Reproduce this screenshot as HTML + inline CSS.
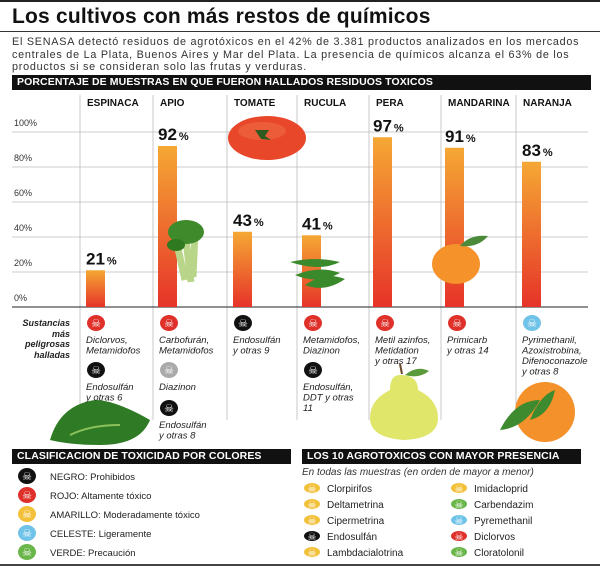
<!DOCTYPE html>
<html><head><meta charset="utf-8"><style>
body{margin:0;background:#fff;font-family:"Liberation Sans",sans-serif;}
#root{position:relative;width:600px;height:582px;overflow:hidden;background:#fff;}
.abs{position:absolute;}
.hdr{position:absolute;background:#111;color:#fff;font-weight:bold;font-size:10.5px;line-height:15px;padding-left:5px;box-sizing:border-box;letter-spacing:0.1px;}
</style></head><body>
<div id="root">
<div class="abs" style="left:0;top:0;width:600px;height:2px;background:#222"></div>
<div class="abs" style="left:12px;top:5px;font-size:21px;font-weight:bold;color:#111;letter-spacing:0.2px">Los cultivos con más restos de químicos</div>
<div class="abs" style="left:0;top:31px;width:600px;height:1px;background:#333"></div>
<div class="abs" style="left:12px;top:36px;width:600px;font-size:10.8px;letter-spacing:0.75px;line-height:12.5px;color:#333;white-space:nowrap">El SENASA detectó residuos de agrotóxicos en el 42% de 3.381 productos analizados en los mercados<br>centrales de La Plata, Buenos Aires y Mar del Plata. La presencia de químicos alcanza el 63% de los<br>productos si se consideran solo las frutas y verduras.</div>
<div class="hdr" style="left:12px;top:75px;width:579px">PORCENTAJE DE MUESTRAS EN QUE FUERON HALLADOS RESIDUOS TOXICOS</div>
<svg id="chart" class="abs" style="left:0;top:0" width="600" height="582"></svg>

<div class="abs" style="left:12px;top:318px;width:58px;text-align:right;font-size:9px;font-weight:bold;font-style:italic;line-height:10.5px;color:#222">Sustancias más peligrosas halladas</div>

<div class="hdr" style="left:12px;top:449px;width:279px">CLASIFICACION DE TOXICIDAD POR COLORES</div>
<div class="hdr" style="left:302px;top:449px;width:279px">LOS 10 AGROTOXICOS CON MAYOR PRESENCIA</div>
<div class="abs" style="left:302px;top:467px;font-size:10px;font-style:italic;color:#333">En todas las muestras (en orden de mayor a menor)</div>
<div class="abs" style="left:0;top:564px;width:600px;height:2px;background:#444"></div>
</div>
<script>
const categories=["ESPINACA","APIO","TOMATE","RUCULA","PERA","MANDARINA","NARANJA"];
const values=[21,92,43,41,97,91,83];
const yTicks=[0,20,40,60,80,100];
const NS="http://www.w3.org/2000/svg";
const svg=document.getElementById('chart');
const colX=[80,153,227,297,369,441,516];
const barOff=[6,5,6,5,4,4,6];
const y=v=>307-v*1.75;
function mk(t,a){const e=document.createElementNS(NS,t);for(const k in a)e.setAttribute(k,a[k]);svg.appendChild(e);return e;}
const defs=mk('defs',{});
const lg=document.createElementNS(NS,'linearGradient');lg.setAttribute('id','bg');lg.setAttribute('x1','0');lg.setAttribute('y1','0');lg.setAttribute('x2','0');lg.setAttribute('y2','1');
lg.innerHTML='<stop offset="0" stop-color="#f5a834"/><stop offset="1" stop-color="#e63329"/>';defs.appendChild(lg);
yTicks.forEach(t=>{
 if(t>0){const l=mk('line',{x1:12,x2:588,y1:y(t),y2:y(t),stroke:'#bbb','stroke-width':0.8});}
 const tx=mk('text',{x:14,y:y(t)-6,'font-size':9,fill:'#333','font-family':'Liberation Sans'});tx.textContent=t+'%';
 
});
colX.forEach((x,i)=>{const l=mk('line',{x1:x,x2:x,y1:95,y2:420,stroke:'#bbb','stroke-width':0.8});});
const bl=mk('line',{x1:12,x2:588,y1:307,y2:307,stroke:'#222','stroke-width':1});
categories.forEach((c,i)=>{
 const x=colX[i]+barOff[i];
 const cl=mk('text',{x:colX[i]+7,y:106,'font-size':10,'font-weight':'bold',fill:'#111','font-family':'Liberation Sans'});cl.textContent=c;
 
 const r=mk('rect',{x:x,y:y(values[i]),width:19,height:307-y(values[i]),fill:'url(#bg)'});
 
 const vt=mk('text',{x:x,y:y(values[i])-6,'font-size':17,'font-weight':'bold',fill:'#111','font-family':'Liberation Sans'});
 vt.innerHTML=values[i]+'<tspan font-size="11" dx="2">%</tspan>';
 
});
function g(name,html){const e=mk('g',{});e.innerHTML=html;}
g('tomato-image','<ellipse cx="267" cy="138" rx="39" ry="22" fill="#e8472a"/><ellipse cx="262" cy="131" rx="24" ry="9" fill="#f06a45" opacity=".6"/><path d="M255 130 l14 0 l-4 6 l6 4 l-10-1 z" fill="#2f5a1f"/>');
g('celery-image','<path d="M175 235 l10 45 M185 232 l6 50 M195 232 l-2 45" stroke="#b9d58a" stroke-width="7"/><ellipse cx="186" cy="232" rx="18" ry="12" fill="#3f8a2a"/><ellipse cx="176" cy="245" rx="9" ry="6" fill="#2f7a20"/>');
g('arugula-image','<path d="M290 262 q25-6 50 0 q-20 10-50 0z M295 275 q25-10 45-2 q-22 12-45 2z M305 285 q20-14 40-6 q-20 14-40 6z" fill="#3a8a2c"/>');
g('mandarin-image','<ellipse cx="456" cy="264" rx="24" ry="20" fill="#f5922a"/><path d="M460 246 q10-12 28-10 q-10 12-28 10z" fill="#4b8a3a"/>');
g('pear-image','<path d="M400 375 q-10 0-10 15 q-20 10-20 28 q0 20 35 22 q33-2 33-22 q0-18-20-28 q0-15-18-15z" fill="#dfe66a"/><path d="M402 374 l-2-10" stroke="#6b4a2a" stroke-width="2"/><path d="M405 375 q12-10 24-4 q-10 8-24 4z" fill="#5a9a3a"/>');
g('orange-image','<circle cx="545" cy="412" r="30" fill="#f4912a"/><path d="M500 430 q15-30 40-30 q-15 28-40 30z M530 420 q10-25 25-30 q-5 25-25 30z" fill="#3e8a2e"/>');
g('spinach-image','<path d="M50 440 q10-35 45-40 q20 0 55 20 q-10 25-50 25 q-30 0-50-5z" fill="#2f7a25"/><path d="M70 435 q20-10 50-10" stroke="#8bc05a" stroke-width="2" fill="none"/>');
function skull(cx,cy,col,name){const e=mk('g',{});e.innerHTML='<ellipse cx="'+cx+'" cy="'+cy+'" rx="9" ry="8" fill="'+col+'"/><text x="'+cx+'" y="'+(cy+4)+'" font-size="11" fill="#fff" text-anchor="middle">☠</text>';
 }
const R='#e0302a',B='#111',G='#aaa',C='#6fc3e8',Y='#f3c03a',V='#6bb64a';
const subs=[
 [[R,323,'Diclorvos,','Metamidofos'],[B,370,'Endosulfán','y otras 6']],
 [[R,323,'Carbofurán,','Metamidofos'],[G,370,'Diazinon',''],[B,408,'Endosulfán','y otras 8']],
 [[B,323,'Endosulfán','y otras 9']],
 [[R,323,'Metamidofos,','Diazinon'],[B,370,'Endosulfán,','DDT y otras','11']],
 [[R,323,'Metil azinfos,','Metidation','y otras 17']],
 [[R,323,'Primicarb','y otras 14']],
 [[C,323,'Pyrimethanil,','Azoxistrobina,','Difenoconazole','y otras 8']]
];
subs.forEach((col,i)=>{col.forEach(s=>{
 const x=colX[i]+6;skull(x+10,s[1],s[0],'skull-icon');
 for(let k=2;k<s.length;k++){if(!s[k])continue;const t=mk('text',{x:x,y:s[1]+20+(k-2)*10.5,'font-size':9.5,'font-style':'italic',fill:'#222','font-family':'Liberation Sans'});t.textContent=s[k];
 }
});});
const legend=[[B,'NEGRO: Prohibidos'],[R,'ROJO: Altamente tóxico'],[Y,'AMARILLO: Moderadamente tóxico'],[C,'CELESTE: Ligeramente'],[V,'VERDE: Precaución']];
legend.forEach((l,i)=>{const cy=476+i*19;const e=mk('g',{});e.innerHTML='<ellipse cx="27" cy="'+cy+'" rx="9" ry="8" fill="'+l[0]+'"/><text x="27" y="'+(cy+4)+'" font-size="11" fill="#fff" text-anchor="middle">☠</text><text x="50" y="'+(cy+4)+'" font-size="9.5" fill="#222" font-family="Liberation Sans">'+l[1]+'</text>';
 });
const top10=[[Y,'Clorpirifos'],[Y,'Deltametrina'],[Y,'Cipermetrina'],[B,'Endosulfán'],[Y,'Lambdacialotrina'],[Y,'Imidacloprid'],[V,'Carbendazim'],[C,'Pyremethanil'],[R,'Diclorvos'],[V,'Cloratolonil']];
top10.forEach((t,i)=>{const x=i<5?303:450;const cy=488+(i%5)*16;const e=mk('g',{});e.innerHTML='<ellipse cx="'+(x+9)+'" cy="'+cy+'" rx="8" ry="5" fill="'+t[0]+'"/><text x="'+(x+9)+'" y="'+(cy+4)+'" font-size="10" fill="#fff" text-anchor="middle">☠</text><text x="'+(x+24)+'" y="'+(cy+4)+'" font-size="10" fill="#222" font-family="Liberation Sans">'+t[1]+'</text>';
 });
</script>
</body></html>
